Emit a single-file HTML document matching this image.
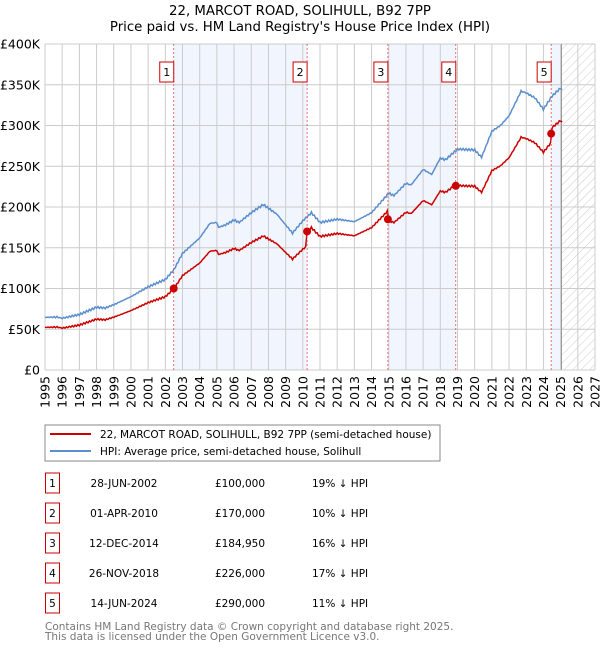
<!DOCTYPE html>
<html><head><meta charset="utf-8"><style>
body{margin:0;background:#fff;width:600px;height:650px;overflow:hidden}
svg{font-family:"DejaVu Sans","Liberation Sans",sans-serif}
</style></head><body>
<svg id="s" width="600" height="650" xmlns="http://www.w3.org/2000/svg">
<defs><pattern id="h" width="6" height="6" patternUnits="userSpaceOnUse" patternTransform="rotate(45)"><line x1="0" y1="0" x2="0" y2="6" stroke="#ccc" stroke-width="1"/></pattern></defs>
<text x="300" y="15" font-size="13.3" text-anchor="middle">22, MARCOT ROAD, SOLIHULL, B92 7PP</text>
<text x="300" y="31" font-size="13.3" text-anchor="middle">Price paid vs. HM Land Registry's House Price Index (HPI)</text>
<g id="g"></g>
<rect x="45" y="425" width="395" height="36" fill="#fff" stroke="#888" stroke-width="1"/>
<line x1="50" y1="434" x2="91" y2="434" stroke="#cc0000" stroke-width="2"/>
<line x1="50" y1="451" x2="91" y2="451" stroke="#5b8fcf" stroke-width="2"/>
<text x="100" y="438" font-size="10.5">22, MARCOT ROAD, SOLIHULL, B92 7PP (semi-detached house)</text>
<text x="100" y="455" font-size="10.5">HPI: Average price, semi-detached house, Solihull</text>
<g font-size="10.5" id="t"></g>
<text x="45" y="630" font-size="10.5" fill="#777">Contains HM Land Registry data © Crown copyright and database right 2025.</text>
<text x="45" y="640" font-size="10.5" fill="#777">This data is licensed under the Open Government Licence v3.0.</text>
</svg>
<script>
const X=y=>45+(y-1995)*550/32, Y=v=>370-v*326/400;
let g='';
const sh=[[2002.49,2010.25],[2014.95,2018.9],[2024.45,2025.05]];
for(const [a,b] of sh) g+=`<rect x="${X(a)}" y="44" width="${X(b)-X(a)}" height="326" fill="#eef3fc" opacity="0.8"/>`;
g+=`<rect x="${X(2025.05)}" y="44" width="${595-X(2025.05)}" height="326" fill="url(#h)"/>`;
for(let y=1995;y<=2027;y++){g+=`<line x1="${X(y)}" y1="44" x2="${X(y)}" y2="370" stroke="#ccc"/>`;
g+=`<text transform="translate(${X(y)+4.5},376) rotate(-90)" font-size="12.5" text-anchor="end">${y}</text>`;}
for(let v=0;v<=400;v+=50){g+=`<line x1="45" y1="${Y(v)}" x2="595" y2="${Y(v)}" stroke="#ccc"/>`;
g+=`<text x="40" y="${Y(v)+4.5}" font-size="12.5" text-anchor="end">${v?'£'+v+'K':'£0'}</text>`;}
g+=`<line x1="${X(2025.05)}" y1="44" x2="${X(2025.05)}" y2="370" stroke="#999"/>`;
const hp=[[1995,64.6],[1995.7,65],[1996,63.5],[1997,68],[1998,77],[1998.5,76],[1999,80],[2000,90],[2001,102],[2002,111],[2002.5,123],[2003,143],[2004,162],[2004.6,180],[2005,181],[2005.1,175],[2005.5,178],[2006,184],[2006.3,181],[2007,193],[2007.7,203],[2008.5,191],[2009,178],[2009.4,168],[2010,183],[2010.5,193],[2011,181],[2012,185],[2013,182],[2014,193],[2015,217],[2015.3,214],[2016,229],[2016.3,227],[2017,246],[2017.5,240],[2018,260],[2018.3,258],[2019,271],[2020,270],[2020.4,261],[2021,293],[2021.5,300],[2022,312],[2022.7,342],[2023,340],[2023.5,334],[2024,320],[2024.5,336],[2025,346],[2025.1,344]];
const segs=[[1995,0.81],[2010.25,0.905],[2014.95,0.845],[2018.9,0.835],[2024.45,0.885]];
const f=t=>{let r=segs[0][1];for(const s of segs)if(t>=s[0])r=s[1];return r};
let pts=[];for(let i=0;i<hp.length-1;i++){const[a,va]=hp[i],[b,vb]=hp[i+1];const n=Math.max(1,Math.round((b-a)*12));for(let k=0;k<n;k++){const t=a+(b-a)*k/n;pts.push([t,va+(vb-va)*k/n+Math.sin(t*37)*1.2]);}}pts.push(hp[hp.length-1]);
let bl='',rd='';for(const[t,v]of pts){bl+=`${X(t).toFixed(1)},${Y(v).toFixed(1)} `;rd+=`${X(t).toFixed(1)},${Y(v*f(t)).toFixed(1)} `;}
g+=`<polyline points="${bl}" fill="none" stroke="#5b8fcf" stroke-width="1.5"/>`;
g+=`<polyline points="${rd}" fill="none" stroke="#cc0000" stroke-width="1.5"/>`;
const sales=[[2002.49,100,1],[2010.25,170,2],[2014.95,184.95,3],[2018.9,226,4],[2024.45,290,5]];
for(const[t,v,n]of sales){g+=`<line x1="${X(t)}" y1="44" x2="${X(t)}" y2="370" stroke="#e05050" stroke-dasharray="2,2" stroke-width="0.8"/>`;
g+=`<circle cx="${X(t)}" cy="${Y(v)}" r="4" fill="#cc0000"/>`;
g+=`<rect x="${X(t)-14}" y="62" width="14" height="20" fill="#fff" stroke="#cc0000"/><text x="${X(t)-7}" y="76" font-size="11" text-anchor="middle">${n}</text>`;}
document.getElementById('g').innerHTML=g;
const rows=[['28-JUN-2002','£100,000','19%'],['01-APR-2010','£170,000','10%'],['12-DEC-2014','£184,950','16%'],['26-NOV-2018','£226,000','17%'],['14-JUN-2024','£290,000','11%']];
let t='';rows.forEach((r,i)=>{const y=483+i*30;t+=`<rect x="45.5" y="${y-10}" width="14" height="20" fill="#fff" stroke="#cc0000"/><text x="52.5" y="${y+4}" text-anchor="middle">${i+1}</text><text x="124" y="${y+4}" text-anchor="middle">${r[0]}</text><text x="240" y="${y+4}" text-anchor="middle">${r[1]}</text><text x="312" y="${y+4}">${r[2]} ↓ HPI</text>`;});
document.getElementById('t').innerHTML=t;
</script>
</body></html>
